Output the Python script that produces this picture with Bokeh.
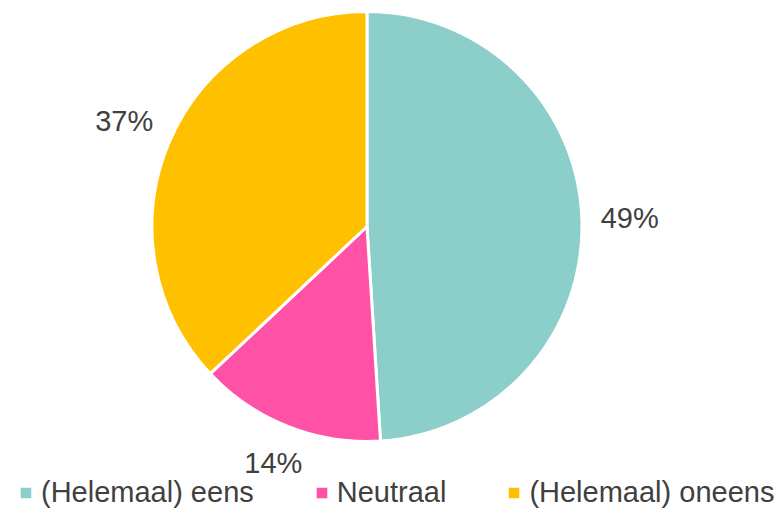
import numpy as np
from bokeh.plotting import figure
from bokeh.models import ColumnDataSource, Legend, LegendItem, Range1d
from bokeh.core.properties import value
from bokeh.embed import file_html
from bokeh.resources import INLINE

# ---- data ----
categories = ["(Helemaal) eens", "Neutraal", "(Helemaal) oneens"]
shares = [49, 14, 37]
labels = ["49%", "14%", "37%"]
colors = ["#8CCECA", "#FF52A6", "#FFC000"]

# ---- layout / style ----
W, H = 776, 508
FONT = "Liberation Sans"
FS = 29
TXT = "#404040"

p = figure(width=W, height=H, output_backend="svg", toolbar_location=None,
           x_range=Range1d(0, W), y_range=Range1d(0, H),
           x_axis_type=None, y_axis_type=None, min_border=0)
p.outline_line_color = None
p.grid.visible = False
p.background_fill_color = "white"
p.border_fill_color = "white"

cx, cy, R = 366.5, 282.0, 215.0
frac = np.array(shares, dtype=float) / sum(shares)
cum = np.cumsum(frac)
start = np.pi / 2 - 2 * np.pi * (cum - frac)
end = np.pi / 2 - 2 * np.pi * cum
mid = (start + end) / 2

# Outside-end label placement (label box touching a circle just outside the pie)
hw, hh = 1.0 * FS, 0.38 * FS
gap = 20.0
support = hw * np.abs(np.cos(mid)) + hh * np.abs(np.sin(mid))
rl = (R - 1.5) + gap + support
lx = cx + rl * np.cos(mid)
ly = cy + rl * np.sin(mid)

src = ColumnDataSource(dict(cat=categories, share=shares, label=labels, color=colors,
                            start=start, end=end, lx=lx, ly=ly))

wr = p.wedge(x=cx, y=cy, radius=R, start_angle="start", end_angle="end",
             direction="clock", fill_color="color", line_color="white",
             line_width=3, source=src)

p.text(x="lx", y="ly", text="label", source=src,
       text_font=value(FONT), text_font_size=f"{FS}px", text_color=TXT,
       text_align="center", text_baseline="middle")

legend = Legend(
    items=[LegendItem(label=c, renderers=[wr], index=i) for i, c in enumerate(categories)],
    orientation="horizontal", location=(17, -1), padding=0, margin=0,
    spacing=59, label_standoff=7, glyph_width=17, glyph_height=17,
    label_text_font=FONT, label_text_font_size=f"{FS}px", label_text_color=TXT,
    background_fill_alpha=0, border_line_color=None,
)
p.add_layout(legend)

open("out.html", "w").write(file_html(p, INLINE))
